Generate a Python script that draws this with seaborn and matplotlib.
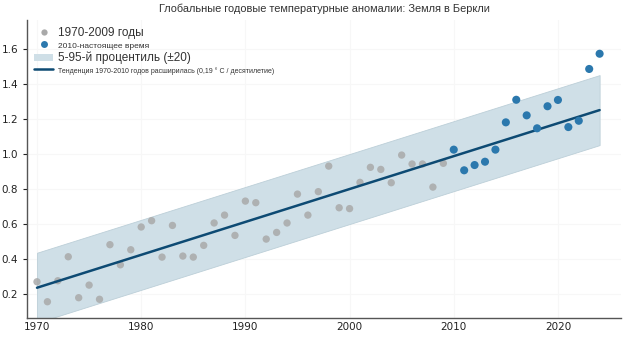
import numpy as np
import pandas as pd
import matplotlib
matplotlib.use("Agg")
import matplotlib.pyplot as plt
import seaborn as sns
from matplotlib.lines import Line2D
from matplotlib.patches import Patch

# ---- data ----
years_old = list(range(1970, 2010))
anom_old = [0.27, 0.156, 0.276, 0.413, 0.179, 0.251, 0.17, 0.482, 0.367, 0.453,
            0.583, 0.619, 0.411, 0.592, 0.417, 0.411, 0.478, 0.606, 0.651, 0.535,
            0.731, 0.722, 0.514, 0.552, 0.606, 0.771, 0.651, 0.785, 0.931, 0.693,
            0.688, 0.838, 0.924, 0.912, 0.836, 0.994, 0.943, 0.943, 0.811, 0.947]
years_new = list(range(2010, 2025))
anom_new = [1.025, 0.907, 0.937, 0.956, 1.025, 1.181, 1.31, 1.221, 1.147, 1.273,
            1.309, 1.154, 1.19, 1.486, 1.573]
trend_years = [1970, 2024]
trend_vals = [0.236, 1.251]
band_halfwidth = 0.2

title = "Глобальные годовые температурные аномалии: Земля в Беркли"
lbl_old = "1970-2009 годы"
lbl_new = "2010-настоящее время"
lbl_band = "5-95-й процентиль (±20)"
lbl_trend = "Тенденция 1970-2010 годов расширилась (0,19 ° C / десятилетие)"
xticks = [1970, 1980, 1990, 2000, 2010, 2020]
yticks = [0.2, 0.4, 0.6, 0.8, 1.0, 1.2, 1.4, 1.6]

sns.set_style("ticks")
plt.rcParams['font.family'] = ['DejaVu Sans']

fig = plt.figure(figsize=(6.31, 3.49), dpi=100)
ax = fig.add_axes([0.0428, 0.0888, 0.9413, 0.854])

# faint grid
for xv in xticks:
    ax.axvline(xv, color="#f7f7f7", lw=0.8, zorder=0)
for yv in yticks:
    ax.axhline(yv, color="#f7f7f7", lw=0.8, zorder=0)

tr = pd.DataFrame({"year": trend_years, "val": trend_vals})
ax.fill_between(tr["year"], tr["val"] - band_halfwidth, tr["val"] + band_halfwidth,
                color="#cfdfe7", edgecolor="#bccfd8", lw=0.6, zorder=1)

df_old = pd.DataFrame({"year": years_old, "val": anom_old})
df_new = pd.DataFrame({"year": years_new, "val": anom_new})
sns.scatterplot(data=df_old, x="year", y="val", ax=ax, color="#a9a9a9", s=28,
                edgecolor="none", alpha=0.85, zorder=2)
sns.lineplot(data=tr, x="year", y="val", ax=ax, color="#0d4a73", lw=1.8, zorder=3)
sns.scatterplot(data=df_new, x="year", y="val", ax=ax, color="#2b78ad", s=34,
                edgecolor="none", zorder=4)

ax.set_xlim(1969.04, 2026.05)
ax.set_ylim(0.063, 1.766)
ax.set_xticks(xticks)
ax.set_yticks(yticks)
ax.set_yticklabels([f"{v:.1f}" for v in yticks])
ax.set_xlabel("")
ax.set_ylabel("")
ax.tick_params(axis="both", labelsize=7.5, colors="#222222", length=3, width=0.8)
ax.tick_params(axis="x", length=0, pad=3)
for s in ["top", "right"]:
    ax.spines[s].set_visible(False)
for s in ["left", "bottom"]:
    ax.spines[s].set_color("#555555")
    ax.spines[s].set_linewidth(1.0)

ax.set_title(title, fontsize=7.9, color="#333333", family=["Liberation Sans"], pad=6)

handles = [
    Line2D([], [], marker="o", ls="none", color="#a9a9a9", markersize=4.5, markeredgewidth=0),
    Line2D([], [], marker="o", ls="none", color="#2b78ad", markersize=5, markeredgewidth=0),
    Patch(facecolor="#cfdfe7", edgecolor="none"),
    Line2D([], [], color="#0d4a73", lw=1.8),
]
leg = ax.legend(handles, [lbl_old, lbl_new, lbl_band, lbl_trend], loc="upper left",
                frameon=False, fontsize=7, handlelength=2.0, handletextpad=0.5,
                labelspacing=0.2, borderaxespad=0.3, bbox_to_anchor=(0.0, 1.0))
sizes = [8.5, 6, 8.5, 5.0]
for t, sz in zip(leg.get_texts(), sizes):
    t.set_fontsize(sz)
    t.set_color("#333333")
    t.set_family(["Liberation Sans"])

fig.savefig("out.png", dpi=100)
